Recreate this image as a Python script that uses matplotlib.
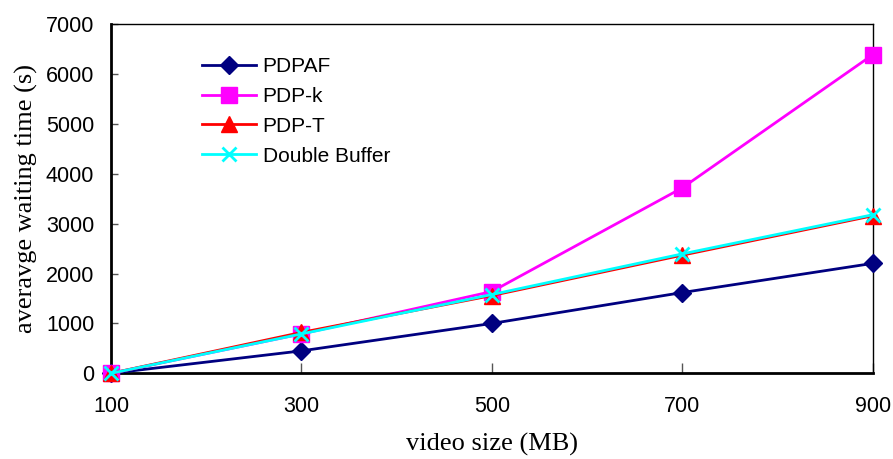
import matplotlib.pyplot as plt

# data
video_size = [100, 300, 500, 700, 900]
pdpaf = [0, 450, 1000, 1620, 2205]
pdp_k = [0, 790, 1640, 3720, 6390]
pdp_t = [0, 820, 1560, 2370, 3160]
double_buffer = [0, 790, 1580, 2395, 3180]

fig = plt.figure(figsize=(8.93, 4.59), dpi=100)
ax = fig.add_axes([0.1243, 0.1867, 0.8530, 0.7603])

tick_font = {'family': 'Liberation Sans', 'size': 15.5}
label_font = {'family': 'Liberation Serif', 'size': 19}

ax.plot(video_size, pdpaf, color='#000080', lw=2, marker='D', ms=9,
        label='PDPAF', clip_on=False, zorder=3)
ax.plot(video_size, pdp_k, color='#ff00ff', lw=2, marker='s', ms=11,
        label='PDP-k', clip_on=False, zorder=3)
ax.plot(video_size, pdp_t, color='#ff0000', lw=2, marker='^', ms=11,
        label='PDP-T', clip_on=False, zorder=3)
ax.plot(video_size, double_buffer, color='#00ffff', lw=2, marker='x', ms=10,
        mew=2, label='Double Buffer', clip_on=False, zorder=3)

ax.set_xlim(100, 900)
ax.set_ylim(0, 7000)
ax.set_xticks(video_size)
ax.set_yticks(range(0, 7001, 1000))
ax.set_xticklabels([str(v) for v in video_size], fontdict=tick_font)
ax.set_yticklabels([str(v) for v in range(0, 7001, 1000)], fontdict=tick_font)
ax.tick_params(axis='x', direction='in', length=7, width=1, color='#555555', pad=16)
ax.tick_params(axis='y', direction='in', length=5, width=1, color='#555555', pad=12)

ax.spines['left'].set_linewidth(2)
ax.spines['bottom'].set_linewidth(2)
ax.spines['top'].set_linewidth(1)
ax.spines['right'].set_linewidth(1)

ax.set_xlabel('video size (MB)', fontdict=label_font, labelpad=12)
ax.set_ylabel('averavge waiting time (s)', fontdict=label_font, labelpad=6)

ax.legend(loc='upper left', bbox_to_anchor=(0.095, 0.96), frameon=False,
          prop={'family': 'Liberation Sans', 'size': 15}, handlelength=2.6,
          labelspacing=0.52, handletextpad=0.3)

fig.savefig('out.png', dpi=100)
